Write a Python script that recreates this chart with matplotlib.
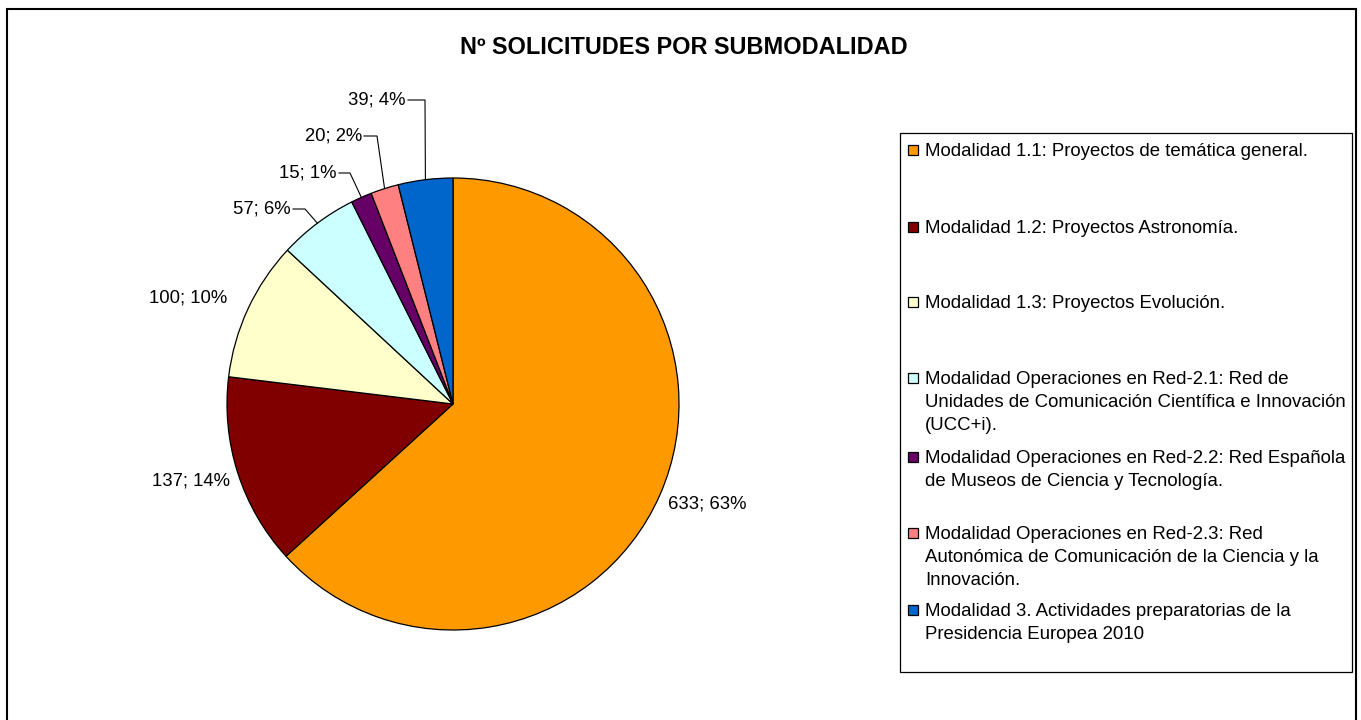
import matplotlib
matplotlib.use("Agg")
import matplotlib.pyplot as plt
from matplotlib.patches import Rectangle
import numpy as np

plt.rcParams['font.family'] = ['Liberation Sans', 'DejaVu Sans']

title = "Nº SOLICITUDES POR SUBMODALIDAD"
values = [633, 137, 100, 57, 15, 20, 39]
legend_labels = [
    "Modalidad 1.1: Proyectos de temática general.",
    "Modalidad 1.2: Proyectos Astronomía.",
    "Modalidad 1.3: Proyectos Evolución.",
    "Modalidad Operaciones en Red-2.1: Red de\nUnidades de Comunicación Científica e Innovación\n(UCC+i).",
    "Modalidad Operaciones en Red-2.2: Red Española\nde Museos de Ciencia y Tecnología.",
    "Modalidad Operaciones en Red-2.3: Red\nAutonómica de Comunicación de la Ciencia y la\nInnovación.",
    "Modalidad 3. Actividades preparatorias de la\nPresidencia Europea 2010",
]
colors = ["#FF9900", "#800000", "#FFFFCC", "#CCFFFF", "#660066", "#FF8080", "#0066CC"]

W, H = 1361, 720
fig = plt.figure(figsize=(W / 100, H / 100), dpi=100)
ax = fig.add_axes([0, 0, 1, 1])

def P(x, y):
    return x, H - y

cx, cy = P(453, 404)
R = 226
wedges, _ = ax.pie(values, colors=colors, startangle=90, counterclock=False,
                   center=(cx, cy), radius=R, frame=True,
                   wedgeprops=dict(edgecolor='black', linewidth=0.9))
ax.set_xlim(0, W)
ax.set_ylim(0, H)
ax.set_aspect('equal')
ax.axis('off')

# outer border (bottom edge lies outside the image)
ax.plot([7, 7, 1356, 1356], [-5, H - 9, H - 9, -5], color='black', lw=1.5,
        solid_joinstyle='miter')

# title
ax.text(*P(684, 47), title, ha='center', va='center', fontsize=16.9, fontweight='bold')

total = sum(values)
labels = [f"{v}; {round(100 * v / total)}%" for v in values]

# label anchor positions (pixels) and elbows
label_pos = [(668, 504, 'left'), (230, 481, 'right'), (227, 298, 'right'),
             (291, 209, 'right'), (337, 173, 'right'), (362, 136, 'right'),
             (406, 100, 'right')]
elbows = [None, None, None, (305, 209), (350, 173), (377, 136), (425, 100)]

for w, lab, (lx, ly, ha), elb in zip(wedges, labels, label_pos, elbows):
    ax.text(*P(lx, ly), lab, ha=ha, va='center', fontsize=13.3)
    if elb is not None:
        ang = np.deg2rad((w.theta1 + w.theta2) / 2)
        ex, ey = cx + R * np.cos(ang), cy + R * np.sin(ang)
        bx, by = P(*elb)
        tx, ty = P(lx + 2, ly)
        ax.plot([ex, bx, tx], [ey, by, ty], color='black', lw=0.8)

# legend
ax.add_patch(Rectangle(P(900, 672), 452, 539, fill=False, edgecolor='black', lw=0.9))
leg_y = [150, 227, 302, 378, 457, 533, 610]
for c, lab, y in zip(colors, legend_labels, leg_y):
    ax.add_patch(Rectangle(P(908, y + 5), 10, 10, facecolor=c, edgecolor='black', lw=0.9))
    ax.text(*P(925, y - 7), lab, ha='left', va='top', fontsize=13.4, linespacing=1.48)

fig.savefig("out.png", dpi=100)
